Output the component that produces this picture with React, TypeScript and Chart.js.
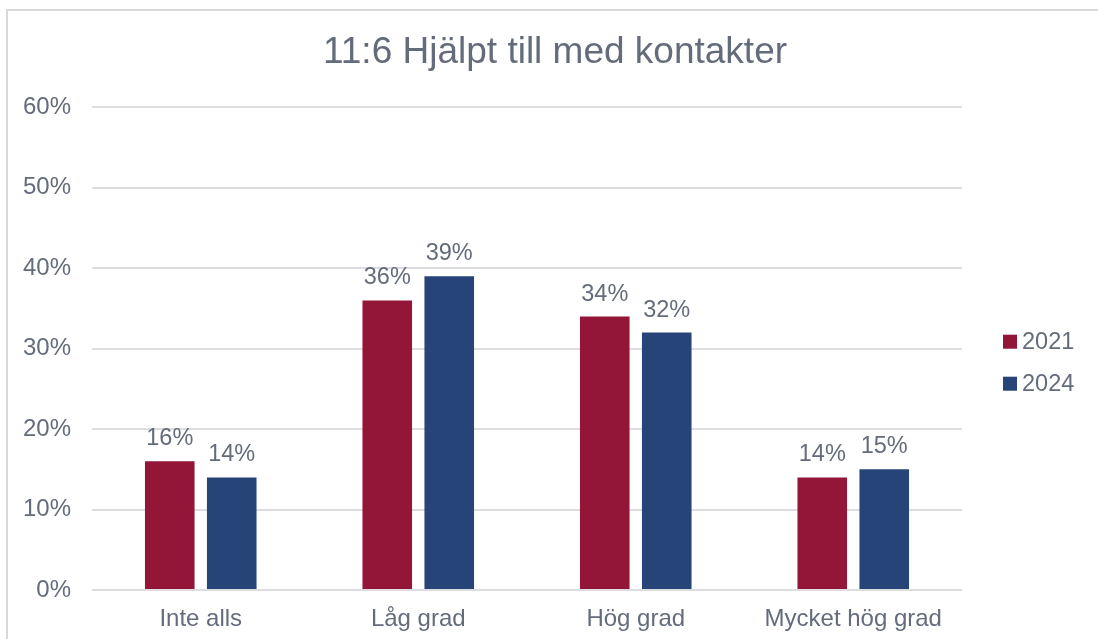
import React, { useEffect, useRef } from "react";
import { Chart, registerables } from "chart.js";

Chart.register(...registerables);

const categories = ["Inte alls", "Låg grad", "Hög grad", "Mycket hög grad"];
const seriesNames = ["2021", "2024"];
const values2021 = [16, 36, 34, 14];
const values2024 = [14, 39, 32, 15];
const yTicks = [0, 10, 20, 30, 40, 50, 60];

const TEXT = "#646c7c";
const FONT = "Arial, 'Liberation Sans', sans-serif";
const COLORS = ["#931537", "#264478"];

const valueLabels = {
  id: "valueLabels",
  afterDatasetsDraw(chart: any) {
    const ctx = chart.ctx;
    ctx.save();
    ctx.font = `23.5px ${FONT}`;
    ctx.fillStyle = TEXT;
    ctx.textAlign = "center";
    ctx.textBaseline = "alphabetic";
    chart.data.datasets.forEach((ds: any, i: number) => {
      const meta = chart.getDatasetMeta(i);
      meta.data.forEach((bar: any, j: number) => {
        ctx.fillText(`${ds.data[j]}%`, bar.x, bar.y - 16);
      });
    });
    ctx.restore();
  },
};

const sideLegend = {
  id: "sideLegend",
  afterDraw(chart: any) {
    const ctx = chart.ctx;
    const area = chart.chartArea;
    ctx.save();
    ctx.font = `23.5px ${FONT}`;
    ctx.textBaseline = "middle";
    ctx.textAlign = "left";
    const x = area.right + 41;
    const y0 = area.top + area.height / 2 - 7;
    chart.data.datasets.forEach((ds: any, i: number) => {
      const cy = y0 + i * 42;
      ctx.fillStyle = ds.backgroundColor;
      ctx.fillRect(x, cy - 7, 14, 14);
      ctx.fillStyle = TEXT;
      ctx.fillText(ds.label, x + 19, cy + 1);
    });
    ctx.restore();
  },
};

export default function App() {
  const ref = useRef<HTMLCanvasElement>(null);
  useEffect(() => {
    if (!ref.current) return;
    const chart = new Chart(ref.current, {
      type: "bar",
      data: {
        labels: categories,
        datasets: [
          { label: seriesNames[0], data: values2021, backgroundColor: COLORS[0], categoryPercentage: 0.57, barPercentage: 0.8, yAxisID: "y" },
          { label: seriesNames[1], data: values2024, backgroundColor: COLORS[1], categoryPercentage: 0.57, barPercentage: 0.8, yAxisID: "y" },
        ],
      },
      options: {
        responsive: false,
        animation: false,
        layout: { padding: { left: 12, right: 0, top: 0, bottom: 0 } },
        plugins: {
          legend: { display: false },
          tooltip: { enabled: false },
          title: {
            display: true,
            text: "11:6 Hjälpt till med kontakter",
            color: TEXT,
            font: { family: FONT, size: 37, weight: "normal" },
            padding: { top: 31, bottom: 32 },
          },
        },
        scales: {
          x: {
            afterFit: (s: any) => { s.height = 49; },
            grid: { display: false, drawTicks: false },
            border: { display: false },
            ticks: { color: TEXT, font: { family: FONT, size: 24 }, padding: 15 },
          },
          y: {
            min: 0,
            max: 60,
            afterFit: (s: any) => { s.width = 80; },
            afterBuildTicks: (s: any) => { s.ticks = yTicks.map((v) => ({ value: v })); },
            grid: { color: "#dcdce1", lineWidth: 2, drawTicks: false },
            border: { display: false },
            ticks: { color: TEXT, font: { family: FONT, size: 24 }, padding: 21, callback: (v: any) => `${v}%` },
          },
          yRight: {
            position: "right",
            display: true,
            afterFit: (s: any) => { s.width = 136; },
            grid: { display: false, drawTicks: false },
            border: { display: false },
            ticks: { display: false },
          },
        },
      },
      plugins: [valueLabels, sideLegend],
    });
    return () => chart.destroy();
  }, []);
  return (
    <div style={{ position: "fixed", left: 0, top: 0, width: 1098, height: 639, background: "#fff", overflow: "hidden" }}>
      <div style={{ position: "absolute", left: 6, top: 9, width: 1200, height: 800, border: "2px solid #d9d9d9", boxSizing: "border-box" }} />
      <canvas ref={ref} width={1098} height={639} style={{ position: "absolute", left: 0, top: 0 }} />
    </div>
  );
}
